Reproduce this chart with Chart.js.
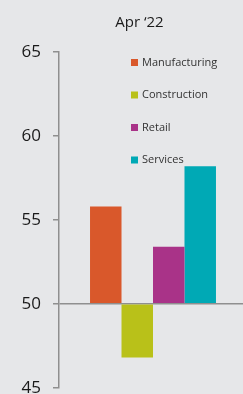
<!DOCTYPE html>
<html>
<head>
<meta charset="utf-8">
<script src="https://cdn.jsdelivr.net/npm/chart.js@4/dist/chart.umd.min.js"></script>
<style>
html,body{margin:0;padding:0;background:#E6E7E9;overflow:hidden;width:243px;height:394px;}
#wrap{position:relative;width:247px;height:410px;}
</style>
</head>
<body>
<div id="wrap"><canvas id="c"></canvas></div>
<script>
const categories = ["Apr \u201822"];
const seriesNames = ["Manufacturing", "Construction", "Retail", "Services"];
const manufacturing = [55.8];
const construction = [46.8];
const retail = [53.4];
const services = [58.2];
const seriesColors = ["#D9582B", "#B9C119", "#A93388", "#00A9B5"];
const yTicks = [45, 50, 55, 60, 65];

const FONT = "'Open Sans', 'Noto Sans', sans-serif";

const overlay = {
  id: 'overlay',
  afterDraw(chart) {
    const ctx = chart.ctx;
    ctx.save();
    ctx.fillStyle = '#1a1a1a';
    ctx.font = '15px ' + FONT;
    ctx.textAlign = 'center';
    ctx.textBaseline = 'middle';
    ctx.fillText(categories[0], 139.5, 23);
    ctx.font = '11px ' + FONT;
    ctx.textAlign = 'left';
    chart.data.datasets.forEach((ds, i) => {
      const cy = 62.5 + i * 32.5;
      ctx.fillStyle = ds.backgroundColor;
      ctx.fillRect(131, cy - 3.5, 7, 7);
      ctx.fillStyle = '#333333';
      ctx.fillText(ds.label, 142, cy);
    });
    ctx.restore();
  }
};

const values = [manufacturing, construction, retail, services];
new Chart(document.getElementById('c'), {
  type: 'bar',
  data: {
    labels: categories,
    datasets: seriesNames.map((n, i) => ({
      label: n,
      data: values[i],
      backgroundColor: seriesColors[i],
      base: 50,
      borderWidth: 0,
      categoryPercentage: 0.67,
      barPercentage: 1.0
    }))
  },
  options: {
    responsive: true,
    maintainAspectRatio: false,
    animation: false,
    layout: { padding: { top: 52, left: 0, right: 0, bottom: 0 } },
    plugins: { legend: { display: false }, title: { display: false }, tooltip: { enabled: false } },
    scales: {
      x: { display: false },
      y: {
        min: 45, max: 65,
        afterBuildTicks: s => { s.ticks = yTicks.map(v => ({ value: v })); },
        afterFit: s => { s.width = 59; },
        border: { display: true, color: '#8f8f8f', width: 1.5 },
        grid: {
          drawOnChartArea: true,
          color: c => (c.tick && c.tick.value === 50) ? '#8f8f8f' : 'rgba(0,0,0,0)',
          lineWidth: 1.5,
          tickColor: '#8f8f8f',
          tickLength: 6,
          tickWidth: 1.5
        },
        ticks: {
          padding: 12,
          color: '#1a1a1a',
          font: { family: FONT, size: 17 }
        }
      }
    }
  },
  plugins: [overlay]
});
</script>
</body>
</html>
